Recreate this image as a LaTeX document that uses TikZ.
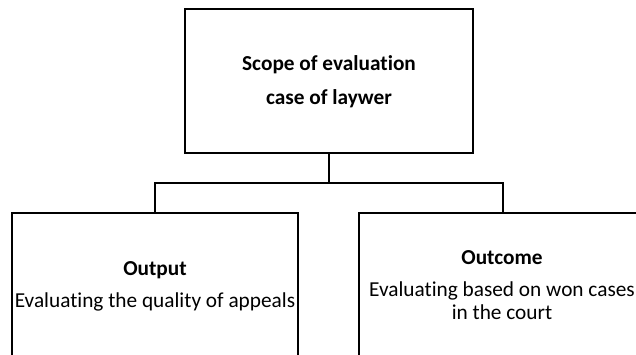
\documentclass[tikz,border=0pt]{standalone}
\usepackage{fontspec}
\setmainfont[Ligatures={NoCommon}]{Carlito}
\begin{document}
\begin{tikzpicture}[x=1pt,y=-1pt,
  box/.style={draw, line width=1.6pt, rectangle, inner sep=0pt},
  conn/.style={line width=1.6pt},
  txt/.style={align=center, inner sep=0pt}]
\useasboundingbox (0,0) rectangle (636,354);
\clip (0,0) rectangle (636,354);
\node[box, minimum width=288pt, minimum height=144pt] (top) at (329,81) {};
\node[box, minimum width=286pt, minimum height=207pt] (left) at (155,316.5) {};
\node[box, minimum width=288pt, minimum height=207pt] (right) at (503,316.5) {};
\coordinate (j) at (329,183);
\draw[conn] (top.south) -- (j) -| (left.north);
\draw[conn] (j) -| (right.north);
\node[txt, font=\bfseries\fontsize{21.3}{34}\selectfont] (ttop) at (329,82) {Scope of evaluation\\case of laywer};
\node[txt, font=\fontsize{21.3}{32}\selectfont] (tleft) at (155,286) {\textbf{Output}\\Evaluating the quality of appeals};
\node[txt, font=\fontsize{21.3}{32}\selectfont] (tright) at (502,285.5) {\textbf{Outcome}\\Evaluating based on won cases\\[-9pt]in the court};
\end{tikzpicture}
\end{document}
